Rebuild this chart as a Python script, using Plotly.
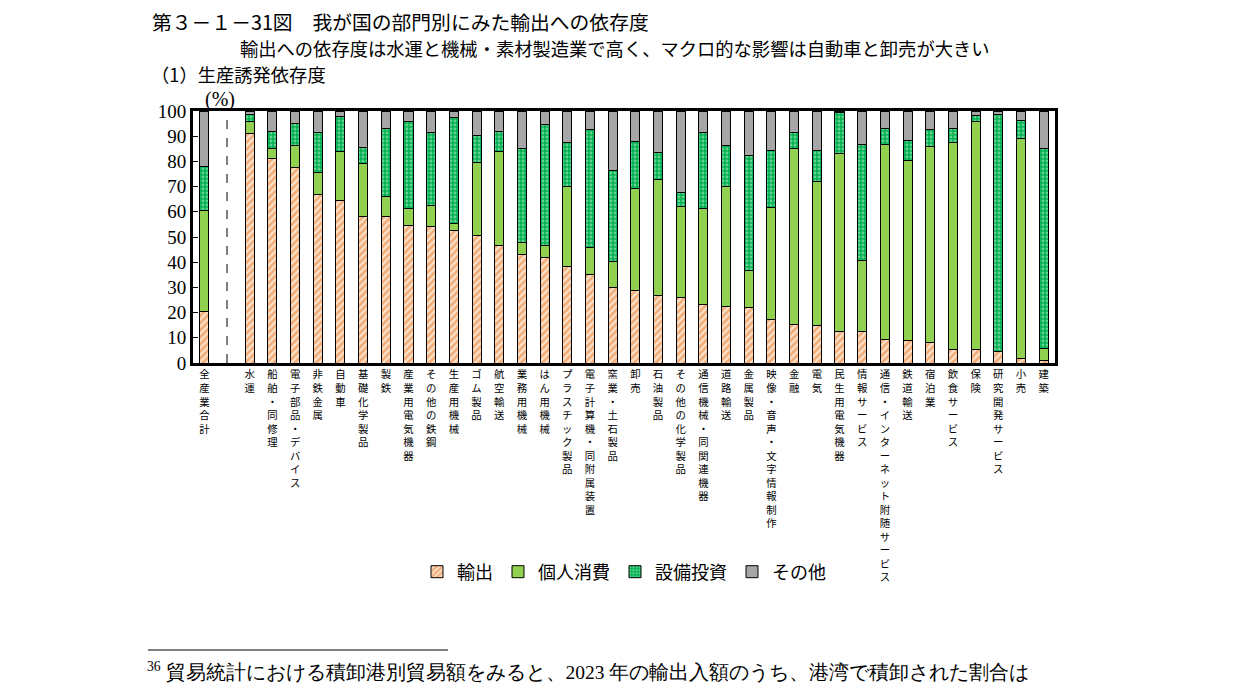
import plotly.graph_objects as go

# 生産誘発依存度（%）
categories = [
    "全産業合計", "", "水運", "船舶・同修理", "電子部品・デバイス", "非鉄金属", "自動車",
    "基礎化学製品", "製鉄", "産業用電気機器", "その他の鉄鋼", "生産用機械", "ゴム製品",
    "航空輸送", "業務用機械", "はん用機械", "プラスチック製品", "電子計算機・同附属装置",
    "窯業・土石製品", "卸売", "石油製品", "その他の化学製品", "通信機械・同関連機器",
    "道路輸送", "金属製品", "映像・音声・文字情報制作", "金融", "電気", "民生用電気機器",
    "情報サービス", "通信・インターネット附随サービス", "鉄道輸送", "宿泊業",
    "飲食サービス", "保険", "研究開発サービス", "小売", "建築",
]

export = [20.3, None, 91.0, 81.0, 77.4, 66.7, 64.3, 58.3, 58.3, 54.7, 54.0, 52.7, 50.7,
          46.7, 43.2, 42.0, 38.4, 35.2, 30.0, 28.8, 26.8, 26.0, 23.2, 22.4, 22.0,
          17.3, 15.3, 14.9, 12.5, 12.5, 9.3, 8.9, 8.1, 5.3, 5.3, 4.4, 1.7, 0.8]
consumption = [40.3, None, 4.9, 4.0, 9.1, 9.0, 19.5, 20.7, 7.6, 6.8, 8.7, 2.8, 28.7,
               37.1, 4.7, 4.7, 31.5, 10.7, 10.2, 40.4, 46.2, 36.3, 38.3, 47.5, 14.8,
               44.6, 69.7, 57.3, 70.5, 28.3, 77.3, 71.3, 77.7, 82.1, 90.5, 0.3, 87.3, 4.9]
investment = [17.5, None, 2.6, 6.8, 8.5, 15.9, 13.9, 6.7, 27.1, 34.3, 28.9, 41.8, 11.0,
              8.0, 37.4, 47.9, 17.5, 46.7, 36.0, 18.8, 10.4, 5.2, 29.9, 16.3, 45.7,
              22.6, 6.4, 12.3, 16.6, 46.1, 6.4, 8.0, 6.8, 5.6, 2.3, 93.8, 7.1, 79.6]
others = [21.9, None, 1.5, 8.2, 5.0, 8.4, 2.3, 14.3, 7.0, 4.2, 8.4, 2.7, 9.6,
          8.2, 14.7, 5.4, 12.6, 7.4, 23.8, 12.0, 16.6, 32.5, 8.6, 13.8, 17.5,
          15.5, 8.6, 15.5, 0.4, 13.1, 7.0, 11.8, 7.4, 7.0, 1.9, 1.5, 3.9, 14.7]

series_names = ["輸出", "個人消費", "設備投資", "その他"]
y_ticks = list(range(0, 101, 10))

JP = "Noto Sans CJK JP"
SERIF = "Liberation Serif"

# page has an 8px body margin, so everything is shifted by OFF
OFF = 8
W, H = 1241 - 2 * OFF, 693 - 2 * OFF
L, R, T, B = 193, 1055, 111, 363


def px(x):
    return (x - L) / (R - L)


def py(y):
    return (B - y) / (B - T)


xpos = list(range(len(categories)))
shown = [i for i, c in enumerate(categories) if c]
ticktext = ["<br>".join(list(categories[i])) for i in shown]

fig = go.Figure()

styles = [
    dict(color="#EE8B3E", pattern=dict(shape="/", fgcolor="#E8782A", bgcolor="#FBE3CB",
                                       size=5, solidity=0.55)),
    dict(color="#92D050"),
    dict(color="#00B050", pattern=dict(shape=".", fgcolor="#C4F5D2", bgcolor="#00B050",
                                       size=4, solidity=0.4)),
    dict(color="#A6A6A6"),
]

for name, vals, st in zip(series_names, [export, consumption, investment, others], styles):
    fig.add_trace(go.Bar(
        x=xpos, y=vals, name=name, width=0.4,
        marker=dict(line=dict(color="black", width=1), **st),
    ))

# 全産業合計と各部門の区切り
sep = categories.index("")
fig.add_shape(type="line", xref="x", yref="y", x0=sep, x1=sep, y0=0, y1=100,
              line=dict(color="black", width=1, dash="dash"))

# 脚注の区切り線
fig.add_shape(type="line", xref="paper", yref="paper", x0=px(148), x1=px(448),
              y0=py(650), y1=py(650), line=dict(color="black", width=1))

annotations = [
    dict(text="第３－１－31図　我が国の部門別にみた輸出への依存度", x=px(151), y=py(22),
         font=dict(family=JP, size=19.8, color="black")),
    dict(text="輸出への依存度は水運と機械・素材製造業で高く、マクロ的な影響は自動車と卸売が大きい",
         x=px(239), y=py(47.5), font=dict(family=JP, size=18.3, color="black")),
    dict(text="（1）生産誘発依存度", x=px(150), y=py(74),
         font=dict(family=JP, size=18.3, color="black")),
    dict(text="(%)", x=px(204), y=py(100), font=dict(family=SERIF, size=20, color="black")),
    dict(text="<sup>36</sup> 貿易統計における積卸港別貿易額をみると、2023 年の輸出入額のうち、港湾で積卸された割合は",
         x=px(146), y=py(671), font=dict(family=SERIF, size=19.5, color="black")),
]
for a in annotations:
    a.update(xref="paper", yref="paper", xanchor="left", yanchor="middle", showarrow=False,
             borderpad=0)

fig.update_layout(
    width=W, height=H,
    margin=dict(l=L - OFF, r=W - (R - OFF), t=T - OFF, b=H - (B - OFF), pad=0),
    paper_bgcolor="white", plot_bgcolor="white",
    barmode="stack", bargap=0.6,
    showlegend=True,
    legend=dict(orientation="h", x=0.5, xanchor="center", y=py(572), yanchor="middle",
                font=dict(family=JP, size=18, color="black"), itemwidth=30,
                traceorder="normal"),
    annotations=annotations,
    font=dict(family=JP, color="black"),
)

fig.update_xaxes(
    range=[-0.5, len(categories) - 0.5],
    tickmode="array", tickvals=shown, ticktext=ticktext, tickangle=0,
    tickfont=dict(family=JP, size=10.4, color="black"),
    showline=True, linewidth=3, linecolor="black", mirror=True,
    showgrid=False, ticks="", zeroline=False,
)
fig.update_yaxes(
    range=[0, 100], tickmode="array", tickvals=y_ticks,
    tickfont=dict(family=SERIF, size=19, color="black"),
    showline=True, linewidth=3, linecolor="black", mirror=True,
    showgrid=False, ticks="inside", ticklen=5, tickcolor="black", zeroline=False,
)

fig.write_html("out.html")
